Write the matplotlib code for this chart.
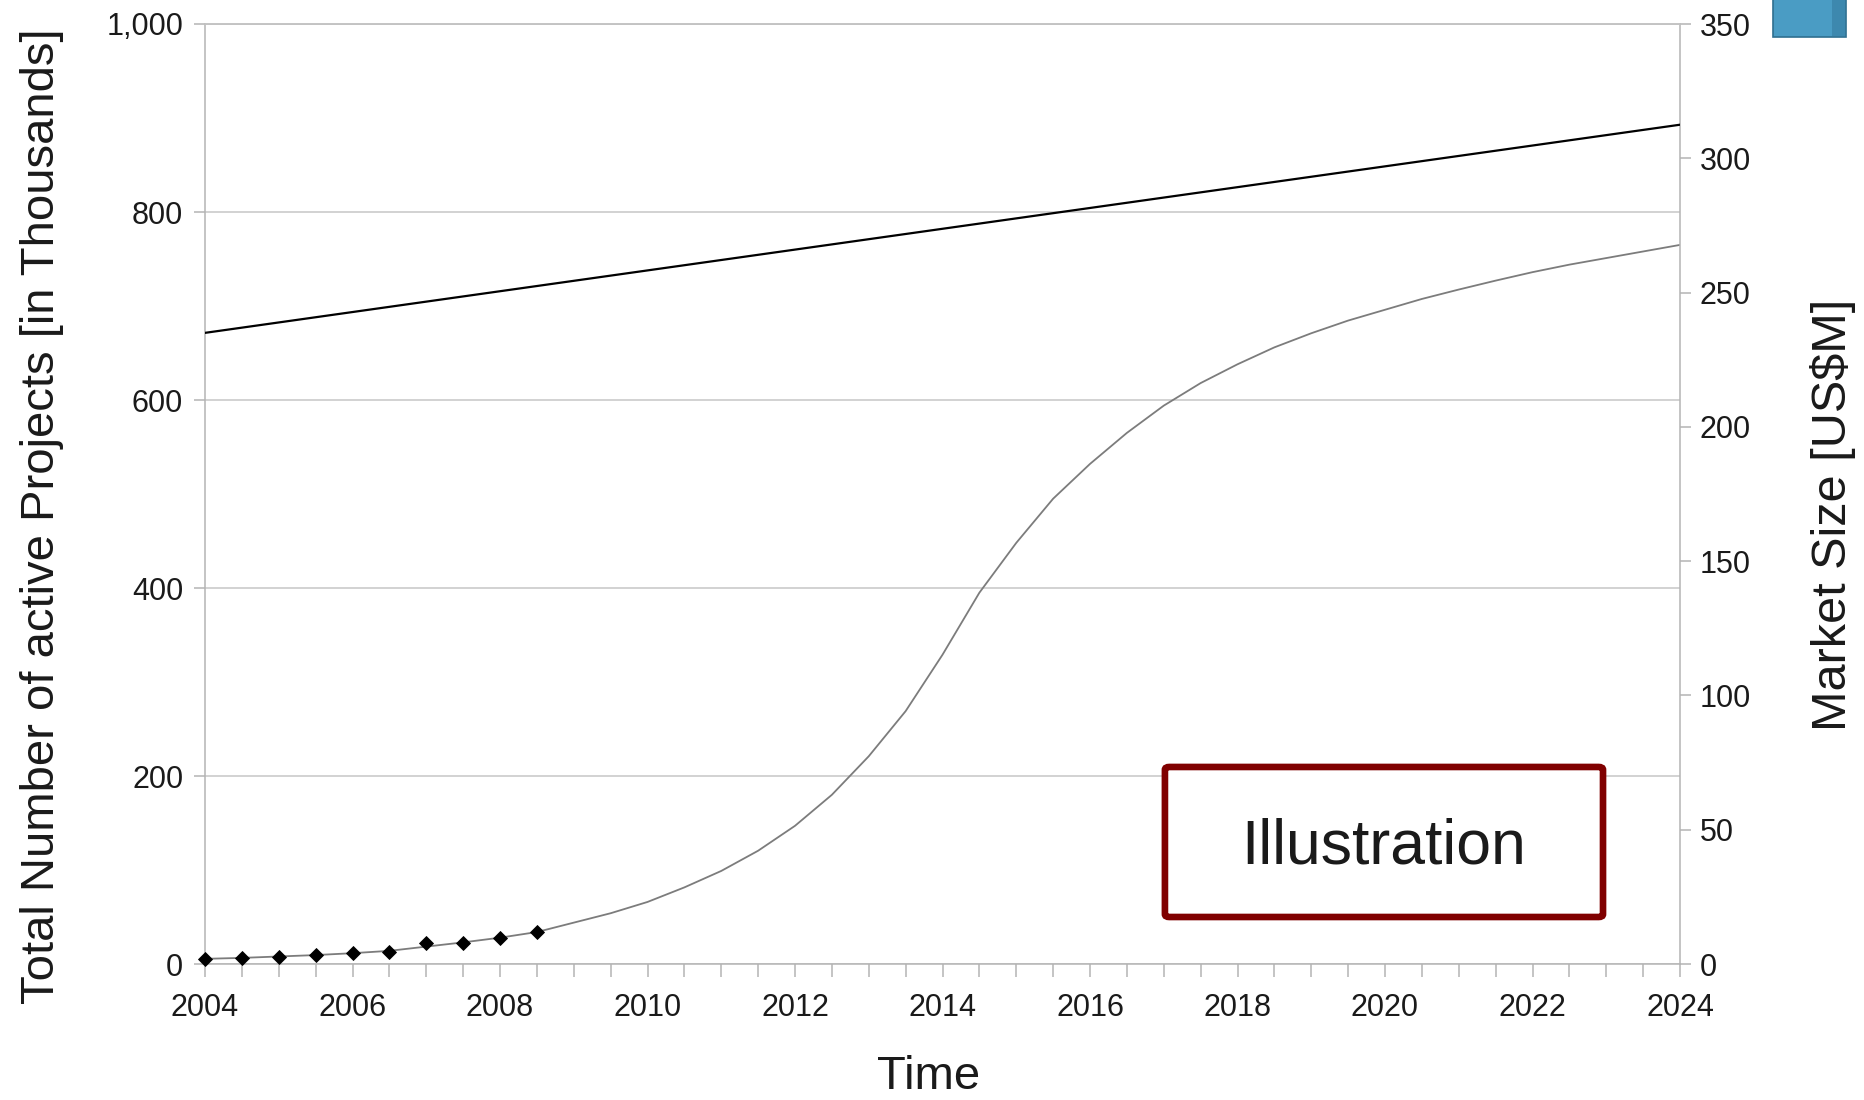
import matplotlib
matplotlib.use("Agg")
import matplotlib.pyplot as plt
from matplotlib.ticker import FixedLocator, FuncFormatter
from matplotlib.patches import Rectangle, FancyBboxPatch
from matplotlib import font_manager

# ---- data ----
years = [2004.0, 2004.5, 2005.0, 2005.5, 2006.0, 2006.5, 2007.0, 2007.5, 2008.0, 2008.5,
         2009.0, 2009.5, 2010.0, 2010.5, 2011.0, 2011.5, 2012.0, 2012.5, 2013.0, 2013.5,
         2014.0, 2014.5, 2015.0, 2015.5, 2016.0, 2016.5, 2017.0, 2017.5, 2018.0, 2018.5,
         2019.0, 2019.5, 2020.0, 2020.5, 2021.0, 2021.5, 2022.0, 2022.5, 2023.0, 2023.5,
         2024.0]
projects_trend = [5.5, 6.5, 8, 9.5, 11.5, 14, 18.5, 23, 28, 34,
                  44, 54, 66, 81.5, 99, 120.5, 147, 180, 221, 269,
                  329, 395, 448, 495, 532, 565, 594, 618, 638, 656,
                  671, 684.5, 696, 707.5, 717.5, 727, 736, 744, 751, 758,
                  765]

observed_years = [2004.0, 2004.5, 2005.0, 2005.5, 2006.0, 2006.5, 2007.0, 2007.5, 2008.0, 2008.5]
observed_projects = [5, 6, 7.8, 9.2, 11.3, 13.1, 22, 22.3, 28, 33.7]

market_years = [2004, 2024]
market_size = [235, 312.5]

x_major = [2004, 2006, 2008, 2010, 2012, 2014, 2016, 2018, 2020, 2022, 2024]
left_ticks = [0, 200, 400, 600, 800, 1000]
right_ticks = [0, 50, 100, 150, 200, 250, 300, 350]

# ---- style ----
plt.rcParams['font.family'] = ['Liberation Sans', 'DejaVu Sans']
TXT = '#1a1a1a'
GRID = '#c6c6c6'
AXC = '#b4b4b4'

fig = plt.figure(figsize=(18.64, 11), dpi=100)
ax = fig.add_axes([205 / 1864, 1 - 964 / 1100, 1475 / 1864, 940 / 1100])
ax2 = ax.twinx()

ax.set_xlim(2004, 2024)
ax.set_ylim(0, 1000)
ax2.set_ylim(0, 350)

ax.yaxis.set_major_locator(FixedLocator(left_ticks))
ax.yaxis.set_major_formatter(FuncFormatter(lambda v, p: f'{v:,.0f}'))
ax2.yaxis.set_major_locator(FixedLocator(right_ticks))
ax.xaxis.set_major_locator(FixedLocator(x_major))
ax.xaxis.set_minor_locator(FixedLocator(years))
ax.xaxis.set_major_formatter(FuncFormatter(lambda v, p: f'{int(round(v))}'))

ax.grid(axis='y', color=GRID, linewidth=1.1, zorder=0)
ax.set_axisbelow(True)

for a in (ax, ax2):
    for s in a.spines.values():
        s.set_color(AXC)
        s.set_linewidth(1.1)
ax.spines['right'].set_visible(False)
ax2.spines['left'].set_visible(False)
ax2.spines['bottom'].set_visible(False)
ax2.spines['top'].set_color(GRID)

ax.tick_params(axis='y', which='major', length=7.7, width=1.1, color=AXC,
               labelsize=22, labelcolor=TXT, pad=8)
ax.tick_params(axis='x', which='both', length=9, width=1.1, color=AXC,
               labelsize=22, labelcolor=TXT, pad=12)
ax2.tick_params(axis='y', which='major', length=8, width=1.1, color=AXC,
                labelsize=22, labelcolor=TXT, pad=6)

# projected curve and observed points
ax.plot(years, projects_trend, color='#7c7c7c', linewidth=1.3, zorder=3)
ax.plot(observed_years, observed_projects, linestyle='none', marker='D',
        markersize=7.5, color='black', markeredgewidth=0.6, zorder=4,
        clip_on=False)

# market size on the secondary axis
ax2.plot(market_years, market_size, color='black', linewidth=1.6, zorder=3)

# axis titles
fig.text(54 / 1864, 1 - 516.5 / 1100, 'Total Number of active Projects [in Thousands]',
         rotation=90, rotation_mode='anchor', ha='center', va='baseline',
         fontsize=34, color=TXT)

narrow = None
try:
    font_manager.findfont(font_manager.FontProperties(family='Liberation Sans Narrow'),
                          fallback_to_default=False)
    narrow = 'Liberation Sans Narrow'
except Exception:
    narrow = None
if narrow:
    fig.text(1846 / 1864, 1 - 515 / 1100, 'Market Size [US$M]', rotation=90,
             rotation_mode='anchor', ha='center', va='baseline',
             fontsize=41, color=TXT, family=[narrow, 'DejaVu Sans'])
else:
    fig.text(1846 / 1864, 1 - 515 / 1100, 'Market Size [US$M]', rotation=90,
             rotation_mode='anchor', ha='center', va='baseline',
             fontsize=35, color=TXT)

fig.text(929 / 1864, 1 - 1089 / 1100, 'Time', ha='center', va='baseline',
         fontsize=34, color=TXT)

# "Illustration" stamp
box = FancyBboxPatch((0.6508, 0.05), 0.2970, 0.1596, transform=ax.transAxes,
                     boxstyle='round,pad=0,rounding_size=0.003',
                     facecolor='white', edgecolor='#800000', linewidth=4.8,
                     zorder=6)
ax2.add_patch(box)
ax2.text(0.7993, 0.1064, 'Illustration', transform=ax.transAxes, ha='center',
         va='baseline', fontsize=45, color=TXT, zorder=7)

# legend key fragment in the upper right corner
fig.patches.append(Rectangle((1773 / 1864, 1 - 37 / 1100), 73 / 1864, 40 / 1100,
                             transform=fig.transFigure, facecolor='#4a9cc4',
                             edgecolor='#2f6f90', linewidth=1.2))
fig.patches.append(Rectangle((1832 / 1864, 1 - 36 / 1100), 13 / 1864, 38 / 1100,
                             transform=fig.transFigure, facecolor='#3d88ae',
                             edgecolor='none'))

fig.savefig('out.png', dpi=100, facecolor='white')
